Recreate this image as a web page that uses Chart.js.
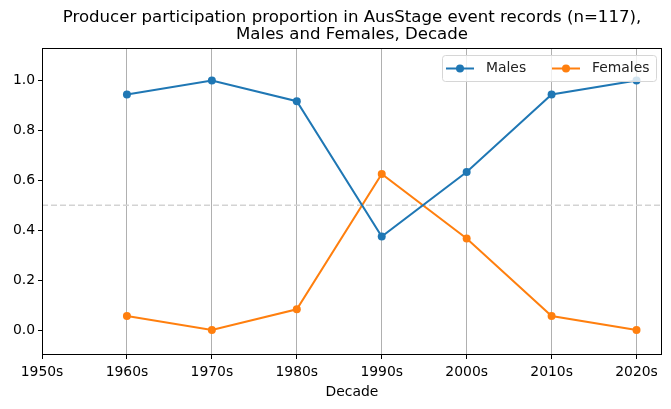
<!DOCTYPE html>
<html lang="en">
<head>
    <meta charset="UTF-8">
    <title>Producer participation proportion</title>
    <script src="https://cdn.jsdelivr.net/npm/chart.js"></script>
    <style>
        html, body { margin: 0; padding: 0; background: white; }
        #wrap { width: 671px; height: 409px; }
    </style>
</head>
<body>
    <div id="wrap"><canvas id="chart" width="671" height="409"></canvas></div>

    <script>
        const decades = ['1950s', '1960s', '1970s', '1980s', '1990s', '2000s', '2010s', '2020s'];
        const males = [null, 0.944, 1.0, 0.917, 0.375, 0.633, 0.944, 1.0];
        const females = [null, 0.056, 0.0, 0.083, 0.625, 0.367, 0.056, 0.0];
        const yTicks = [0.0, 0.2, 0.4, 0.6, 0.8, 1.0];
        const titleLines = ['Producer participation proportion in AusStage event records (n=117),', 'Males and Females, Decade'];

        const FONT = "'DejaVu Sans', sans-serif";
        const blue = '#1f77b4';
        const orange = '#ff7f0e';

        const toPoints = arr => arr.map((v, i) => v === null ? null : { x: i, y: v }).filter(p => p);

        // title, 0.5 reference line, frame and legend drawn by hand
        const extras = {
            id: 'extras',
            beforeDatasetsDraw(chart) {
                const { ctx, chartArea: a, scales } = chart;
                const y = scales.y.getPixelForValue(0.5);
                ctx.save();
                ctx.strokeStyle = '#d3d3d3';
                ctx.lineWidth = 1.5;
                ctx.setLineDash([6, 3]);
                ctx.beginPath();
                ctx.moveTo(a.left, y);
                ctx.lineTo(a.right, y);
                ctx.stroke();
                ctx.restore();
            },
            afterDraw(chart) {
                const { ctx, chartArea: a } = chart;
                ctx.save();
                ctx.fillStyle = '#000';
                ctx.font = '16.6px ' + FONT;
                ctx.textAlign = 'center';
                ctx.textBaseline = 'middle';
                const cx = (a.left + a.right) / 2;
                ctx.fillText(titleLines[0], cx, 17.5);
                ctx.fillText(titleLines[1], cx, 34.5);

                // frame
                ctx.strokeStyle = '#000';
                ctx.lineWidth = 1;
                ctx.strokeRect(a.left + 0.5, a.top + 0.5, a.right - a.left - 1, a.bottom - a.top - 1);

                // legend
                const bx = 442, by = 55, bw = 214, bh = 26;
                ctx.fillStyle = 'rgba(255,255,255,0.8)';
                ctx.strokeStyle = '#d6d6d6';
                ctx.beginPath();
                ctx.roundRect(bx + 0.5, by + 0.5, bw, bh, 3);
                ctx.fill();
                ctx.stroke();
                const items = [
                    { label: 'Males', color: blue, x: 446 },
                    { label: 'Females', color: orange, x: 552 }
                ];
                const ly = by + bh / 2 + 0.5;
                ctx.font = '13.9px ' + FONT;
                ctx.textAlign = 'left';
                items.forEach(it => {
                    ctx.strokeStyle = it.color;
                    ctx.lineWidth = 2;
                    ctx.beginPath();
                    ctx.moveTo(it.x, ly);
                    ctx.lineTo(it.x + 28, ly);
                    ctx.stroke();
                    ctx.fillStyle = it.color;
                    ctx.beginPath();
                    ctx.arc(it.x + 14, ly, 4, 0, Math.PI * 2);
                    ctx.fill();
                    ctx.fillStyle = '#222';
                    ctx.fillText(it.label, it.x + 40, ly);
                });
                ctx.restore();
            }
        };

        new Chart(document.getElementById('chart'), {
            type: 'line',
            data: {
                datasets: [
                    {
                        label: 'Males',
                        data: toPoints(males),
                        borderColor: blue,
                        backgroundColor: blue,
                        borderWidth: 2,
                        pointRadius: 4,
                        pointBorderWidth: 0,
                        tension: 0
                    },
                    {
                        label: 'Females',
                        data: toPoints(females),
                        borderColor: orange,
                        backgroundColor: orange,
                        borderWidth: 2,
                        pointRadius: 4,
                        pointBorderWidth: 0,
                        tension: 0
                    }
                ]
            },
            options: {
                responsive: false,
                animation: false,
                layout: { padding: { top: 48, right: 9, left: 0, bottom: 8 } },
                plugins: {
                    legend: { display: false },
                    tooltip: { enabled: false }
                },
                scales: {
                    x: {
                        type: 'linear',
                        min: 0,
                        max: 7.3,
                        afterBuildTicks: s => { s.ticks = decades.map((d, i) => ({ value: i })); },
                        afterFit: s => { s.height = 46; },
                        ticks: {
                            autoSkip: false,
                            maxRotation: 0,
                            padding: 5,
                            color: '#000',
                            font: { family: FONT, size: 13.9 },
                            callback: v => decades[v]
                        },
                        grid: {
                            color: ctx => ctx.tick && ctx.tick.value === 0 ? 'rgba(0,0,0,0)' : '#b0b0b0',
                            lineWidth: 1,
                            tickColor: '#000',
                            tickLength: 4
                        },
                        border: { display: false },
                        title: {
                            display: true,
                            text: 'Decade',
                            color: '#000',
                            font: { family: FONT, size: 13.9 },
                            padding: { top: 2, bottom: 0 }
                        }
                    },
                    y: {
                        min: -0.1,
                        max: 1.13,
                        afterBuildTicks: s => { s.ticks = yTicks.map(v => ({ value: v })); },
                        afterFit: s => { s.width = 42; },
                        ticks: {
                            padding: 3,
                            color: '#000',
                            font: { family: FONT, size: 13.9 },
                            callback: v => v.toFixed(1)
                        },
                        grid: {
                            drawOnChartArea: false,
                            tickColor: '#000',
                            tickLength: 4
                        },
                        border: { display: false }
                    }
                }
            },
            plugins: [extras]
        });
    </script>
</body>
</html>
